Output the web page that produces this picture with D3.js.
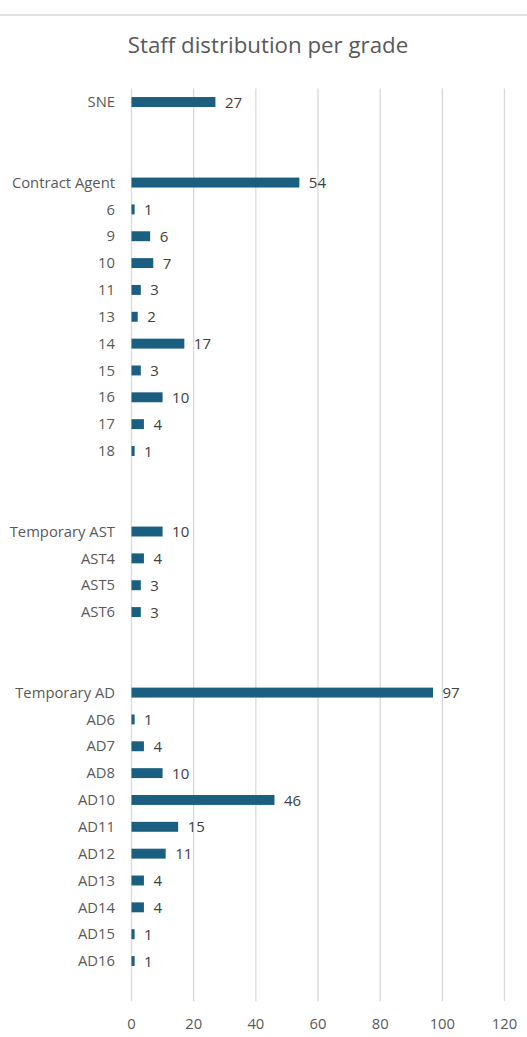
<!DOCTYPE html>
<head>
   <meta charset="utf-8">
   <script src="https://d3js.org/d3.v7.min.js"></script>
   <style>
   body{ margin:0; background:#ffffff; }
   text{
      font-family: "Open Sans", sans-serif;
   }
   text.title{
      font-size: 22.3px;
      fill: #595959;
   }
   .yLabel{
      font-size: 14.8px;
      fill: #595959;
   }
   text.valueLabel{
      font-size: 15px;
      fill: #404040;
   }
   .xAxis .tick text{
      font-size: 14.8px;
      fill: #595959;
   }
   .xAxis .tick line{
      stroke: #d9d9d9;
      stroke-width: 1.3;
   }
   path.domain{ display: none; }
   </style>
   <title>Staff distribution per grade</title>
</head>

<body>
<script>
const width  = 527;
const height = 1037;

const title = 'Staff distribution per grade';

// empty strings are the spacer rows between groups
const grades = ['SNE', '', '',
   'Contract Agent', '6', '9', '10', '11', '13', '14', '15', '16', '17', '18', '', '',
   'Temporary AST', 'AST4', 'AST5', 'AST6', '', '',
   'Temporary AD', 'AD6', 'AD7', 'AD8', 'AD10', 'AD11', 'AD12', 'AD13', 'AD14', 'AD15', 'AD16', ''];
const staff  = [27, null, null,
   54, 1, 6, 7, 3, 2, 17, 3, 10, 4, 1, null, null,
   10, 4, 3, 3, null, null,
   97, 1, 4, 10, 46, 15, 11, 4, 4, 1, 1, null];
const xTicks = [0, 20, 40, 60, 80, 100, 120];

const margin = {top: 88.6, right: 23, bottom: 36, left: 131};

const rows = grades.map((g, i) => ({key: i, name: g, value: staff[i]}));

const svg = d3.select('body').append('svg')
   .attr('width', width)
   .attr('height', height);

svg.append('line')
   .attr('x1', 0).attr('x2', width)
   .attr('y1', 15).attr('y2', 15)
   .style('stroke', '#d9d9d9')
   .style('stroke-width', 1.5);

svg.append('text')
   .attr('class', 'title')
   .attr('x', 268)
   .attr('y', 53)
   .style('text-anchor', 'middle')
   .text(title);

let x = d3.scaleLinear()
   .domain([0, 120])
   .range([margin.left, 504]);

let y = d3.scaleBand()
   .domain(rows.map(d => d.key))
   .range([margin.top, 1001.3])
   .paddingInner(0.63)
   .paddingOuter(0.315);

let xAxis = d3.axisBottom(x)
   .tickValues(xTicks)
   .tickSize(-(1001.3 - margin.top))
   .tickPadding(17);

svg.append('g')
   .attr('class', 'axis xAxis')
   .attr('transform', 'translate(0, 1001.3)')
   .call(xAxis);

const data = rows.filter(d => d.value != null);

svg.selectAll('rect.bar')
   .data(data)
   .enter()
   .append('rect')
   .attr('class', 'bar')
   .attr('x', x(0) + 0.5)
   .attr('y', d => y(d.key))
   .attr('width', d => x(d.value) - x(0))
   .attr('height', y.bandwidth())
   .style('fill', '#1a5e80');

svg.selectAll('text.yLabel')
   .data(rows.filter(d => d.name !== ''))
   .enter()
   .append('text')
   .attr('class', 'yLabel')
   .attr('x', margin.left - 16)
   .attr('y', d => y(d.key) + y.bandwidth()/2)
   .attr('dy', '0.35em')
   .style('text-anchor', 'end')
   .text(d => d.name);

svg.selectAll('text.valueLabel')
   .data(data)
   .enter()
   .append('text')
   .attr('class', 'valueLabel')
   .attr('x', d => x(d.value) + 10)
   .attr('y', d => y(d.key) + y.bandwidth()/2)
   .attr('dy', '0.37em')
   .text(d => d.value);
</script>
</body>
